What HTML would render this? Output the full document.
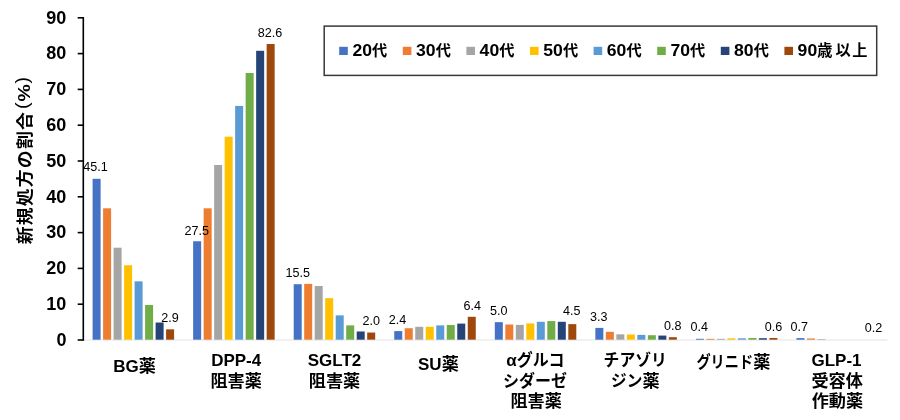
<!DOCTYPE html>
<html lang="ja"><head><meta charset="utf-8"><title>chart</title>
<style>
html,body{margin:0;padding:0;background:#fff;}
body{width:900px;height:420px;overflow:hidden;}
svg{display:block;}
text{font-family:"Liberation Sans","Noto Sans CJK JP",sans-serif;fill:#000;}
.b{font-weight:bold;}
</style></head><body>
<svg width="900" height="420" viewBox="0 0 900 420">
<rect width="900" height="420" fill="#fff"/>

<line x1="83.0" y1="340.0" x2="887.4" y2="340.0" stroke="#E3E3E3" stroke-width="1"/>
<rect x="92.60" y="178.78" width="8.0" height="160.92" fill="#4472C4"/>
<rect x="103.10" y="208.31" width="8.0" height="131.39" fill="#ED7D31"/>
<rect x="113.60" y="247.69" width="8.0" height="92.01" fill="#A5A5A5"/>
<rect x="124.10" y="265.24" width="8.0" height="74.46" fill="#FFC000"/>
<rect x="134.60" y="281.35" width="8.0" height="58.35" fill="#5B9BD5"/>
<rect x="145.10" y="304.97" width="8.0" height="34.73" fill="#70AD47"/>
<rect x="155.60" y="322.52" width="8.0" height="17.18" fill="#264478"/>
<rect x="166.10" y="329.32" width="8.0" height="10.38" fill="#9E480E"/>
<rect x="193.15" y="241.25" width="8.0" height="98.45" fill="#4472C4"/>
<rect x="203.65" y="208.31" width="8.0" height="131.39" fill="#ED7D31"/>
<rect x="214.15" y="165.00" width="8.0" height="174.70" fill="#A5A5A5"/>
<rect x="224.65" y="136.71" width="8.0" height="202.99" fill="#FFC000"/>
<rect x="235.15" y="105.93" width="8.0" height="233.77" fill="#5B9BD5"/>
<rect x="245.65" y="72.99" width="8.0" height="266.71" fill="#70AD47"/>
<rect x="256.15" y="50.79" width="8.0" height="288.91" fill="#264478"/>
<rect x="266.65" y="43.99" width="8.0" height="295.71" fill="#9E480E"/>
<rect x="293.70" y="284.21" width="8.0" height="55.49" fill="#4472C4"/>
<rect x="304.20" y="283.85" width="8.0" height="55.85" fill="#ED7D31"/>
<rect x="314.70" y="286.00" width="8.0" height="53.70" fill="#A5A5A5"/>
<rect x="325.20" y="298.17" width="8.0" height="41.53" fill="#FFC000"/>
<rect x="335.70" y="315.36" width="8.0" height="24.34" fill="#5B9BD5"/>
<rect x="346.20" y="325.38" width="8.0" height="14.32" fill="#70AD47"/>
<rect x="356.70" y="331.47" width="8.0" height="8.23" fill="#264478"/>
<rect x="367.20" y="332.54" width="8.0" height="7.16" fill="#9E480E"/>
<rect x="394.25" y="331.11" width="8.0" height="8.59" fill="#4472C4"/>
<rect x="404.75" y="328.24" width="8.0" height="11.46" fill="#ED7D31"/>
<rect x="415.25" y="326.81" width="8.0" height="12.89" fill="#A5A5A5"/>
<rect x="425.75" y="326.81" width="8.0" height="12.89" fill="#FFC000"/>
<rect x="436.25" y="325.38" width="8.0" height="14.32" fill="#5B9BD5"/>
<rect x="446.75" y="325.02" width="8.0" height="14.68" fill="#70AD47"/>
<rect x="457.25" y="323.59" width="8.0" height="16.11" fill="#264478"/>
<rect x="467.75" y="316.79" width="8.0" height="22.91" fill="#9E480E"/>
<rect x="494.80" y="322.16" width="8.0" height="17.54" fill="#4472C4"/>
<rect x="505.30" y="324.49" width="8.0" height="15.21" fill="#ED7D31"/>
<rect x="515.80" y="324.84" width="8.0" height="14.86" fill="#A5A5A5"/>
<rect x="526.30" y="323.41" width="8.0" height="16.29" fill="#FFC000"/>
<rect x="536.80" y="321.80" width="8.0" height="17.90" fill="#5B9BD5"/>
<rect x="547.30" y="321.08" width="8.0" height="18.62" fill="#70AD47"/>
<rect x="557.80" y="321.80" width="8.0" height="17.90" fill="#264478"/>
<rect x="568.30" y="324.13" width="8.0" height="15.57" fill="#9E480E"/>
<rect x="595.35" y="327.89" width="8.0" height="11.81" fill="#4472C4"/>
<rect x="605.85" y="331.82" width="8.0" height="7.88" fill="#ED7D31"/>
<rect x="616.35" y="334.33" width="8.0" height="5.37" fill="#A5A5A5"/>
<rect x="626.85" y="334.51" width="8.0" height="5.19" fill="#FFC000"/>
<rect x="637.35" y="334.87" width="8.0" height="4.83" fill="#5B9BD5"/>
<rect x="647.85" y="335.22" width="8.0" height="4.47" fill="#70AD47"/>
<rect x="658.35" y="335.58" width="8.0" height="4.12" fill="#264478"/>
<rect x="668.85" y="337.19" width="8.0" height="2.51" fill="#9E480E"/>
<rect x="695.90" y="338.81" width="8.0" height="0.90" fill="#4472C4"/>
<rect x="706.40" y="338.81" width="8.0" height="0.90" fill="#ED7D31"/>
<rect x="716.90" y="338.81" width="8.0" height="0.90" fill="#A5A5A5"/>
<rect x="727.40" y="338.34" width="8.0" height="1.36" fill="#FFC000"/>
<rect x="737.90" y="338.34" width="8.0" height="1.36" fill="#5B9BD5"/>
<rect x="748.40" y="337.98" width="8.0" height="1.72" fill="#70AD47"/>
<rect x="758.90" y="338.20" width="8.0" height="1.50" fill="#264478"/>
<rect x="769.40" y="337.98" width="8.0" height="1.72" fill="#9E480E"/>
<rect x="796.45" y="338.09" width="8.0" height="1.61" fill="#4472C4"/>
<rect x="806.95" y="338.45" width="8.0" height="1.25" fill="#ED7D31"/>
<rect x="817.45" y="339.06" width="8.0" height="0.64" fill="#A5A5A5"/>
<line x1="83.3" y1="17.0" x2="83.3" y2="340.7" stroke="#000" stroke-width="1.6"/>
<line x1="77.7" y1="340.00" x2="83.3" y2="340.00" stroke="#000" stroke-width="1.6"/>
<text class="b" x="66.40" y="345.70" font-size="18" text-anchor="end">0</text>
<line x1="77.7" y1="304.20" x2="83.3" y2="304.20" stroke="#000" stroke-width="1.6"/>
<text class="b" x="66.40" y="309.90" font-size="18" text-anchor="end">10</text>
<line x1="77.7" y1="268.40" x2="83.3" y2="268.40" stroke="#000" stroke-width="1.6"/>
<text class="b" x="66.40" y="274.10" font-size="18" text-anchor="end">20</text>
<line x1="77.7" y1="232.60" x2="83.3" y2="232.60" stroke="#000" stroke-width="1.6"/>
<text class="b" x="66.40" y="238.30" font-size="18" text-anchor="end">30</text>
<line x1="77.7" y1="196.80" x2="83.3" y2="196.80" stroke="#000" stroke-width="1.6"/>
<text class="b" x="66.40" y="202.50" font-size="18" text-anchor="end">40</text>
<line x1="77.7" y1="161.00" x2="83.3" y2="161.00" stroke="#000" stroke-width="1.6"/>
<text class="b" x="66.40" y="166.70" font-size="18" text-anchor="end">50</text>
<line x1="77.7" y1="125.20" x2="83.3" y2="125.20" stroke="#000" stroke-width="1.6"/>
<text class="b" x="66.40" y="130.90" font-size="18" text-anchor="end">60</text>
<line x1="77.7" y1="89.40" x2="83.3" y2="89.40" stroke="#000" stroke-width="1.6"/>
<text class="b" x="66.40" y="95.10" font-size="18" text-anchor="end">70</text>
<line x1="77.7" y1="53.60" x2="83.3" y2="53.60" stroke="#000" stroke-width="1.6"/>
<text class="b" x="66.40" y="59.30" font-size="18" text-anchor="end">80</text>
<line x1="77.7" y1="17.80" x2="83.3" y2="17.80" stroke="#000" stroke-width="1.6"/>
<text class="b" x="66.40" y="23.50" font-size="18" text-anchor="end">90</text>
<text class="b" transform="translate(30.6,244.3) rotate(-90) scale(1.05,1)" font-size="17" letter-spacing="1.14" text-anchor="start">新規処方の割合</text>
<text transform="translate(27.6,109.0) rotate(-90) scale(1.12,1)" font-size="17.7" text-anchor="start">(</text>
<text class="b" transform="translate(30.2,101.5) rotate(-90) scale(1.12,1)" font-size="17.4" text-anchor="start">%</text>
<text transform="translate(27.6,83.6) rotate(-90) scale(1.12,1)" font-size="17.7" text-anchor="start">)</text>
<text transform="translate(95.60,171.20) scale(1.05,1)" font-size="12" text-anchor="middle">45.1</text>
<text transform="translate(170.00,321.70) scale(1.05,1)" font-size="12" text-anchor="middle">2.9</text>
<text transform="translate(196.70,234.50) scale(1.05,1)" font-size="12" text-anchor="middle">27.5</text>
<text transform="translate(270.00,36.80) scale(1.05,1)" font-size="12" text-anchor="middle">82.6</text>
<text transform="translate(297.80,276.60) scale(1.05,1)" font-size="12" text-anchor="middle">15.5</text>
<text transform="translate(371.30,325.00) scale(1.05,1)" font-size="12" text-anchor="middle">2.0</text>
<text transform="translate(397.50,324.40) scale(1.05,1)" font-size="12" text-anchor="middle">2.4</text>
<text transform="translate(472.30,309.60) scale(1.05,1)" font-size="12" text-anchor="middle">6.4</text>
<text transform="translate(498.80,315.00) scale(1.05,1)" font-size="12" text-anchor="middle">5.0</text>
<text transform="translate(571.80,315.00) scale(1.05,1)" font-size="12" text-anchor="middle">4.5</text>
<text transform="translate(598.80,321.00) scale(1.05,1)" font-size="12" text-anchor="middle">3.3</text>
<text transform="translate(672.80,330.00) scale(1.05,1)" font-size="12" text-anchor="middle">0.8</text>
<text transform="translate(699.30,330.90) scale(1.05,1)" font-size="12" text-anchor="middle">0.4</text>
<text transform="translate(773.40,330.50) scale(1.05,1)" font-size="12" text-anchor="middle">0.6</text>
<text transform="translate(799.20,330.50) scale(1.05,1)" font-size="12" text-anchor="middle">0.7</text>
<text transform="translate(873.40,332.10) scale(1.05,1)" font-size="12" text-anchor="middle">0.2</text>
<text class="b" x="113.27" y="371.80" font-size="17" text-anchor="start">BG</text>
<text class="b" transform="translate(138.77,371.80) scale(1.04,1)" font-size="16.5" text-anchor="start">薬</text>
<text class="b" x="211.16" y="366.00" font-size="17" text-anchor="start">DPP-4</text>
<text class="b" transform="translate(210.46,387.00) scale(1.04,1)" font-size="16.5" text-anchor="start">阻害薬</text>
<text class="b" x="307.74" y="366.00" font-size="17" text-anchor="start">SGLT2</text>
<text class="b" transform="translate(308.76,387.00) scale(1.04,1)" font-size="16.5" text-anchor="start">阻害薬</text>
<text class="b" x="418.01" y="370.20" font-size="17" text-anchor="start">SU</text>
<text class="b" transform="translate(441.63,370.20) scale(1.04,1)" font-size="16.5" text-anchor="start">薬</text>
<text class="b" x="506.37" y="366.00" font-size="17" text-anchor="start">α</text>
<text class="b" transform="translate(516.82,366.00) scale(0.97,1)" font-size="16.5" text-anchor="start">グルコ</text>
<text class="b" transform="translate(502.99,387.00) scale(0.97,1)" font-size="16.5" text-anchor="start">シダーゼ</text>
<text class="b" transform="translate(510.46,407.00) scale(1.04,1)" font-size="16.5" text-anchor="start">阻害薬</text>
<text class="b" transform="translate(603.62,366.00) scale(0.96,1)" font-size="16.5" text-anchor="start">チアゾリ</text>
<text class="b" transform="translate(611.05,387.00) scale(0.95,1)" font-size="16.5" text-anchor="start">ジン</text>
<text class="b" transform="translate(642.40,387.00) scale(1.04,1)" font-size="16.5" text-anchor="start">薬</text>
<text class="b" transform="translate(696.44,368.40) scale(0.86,1)" font-size="16.5" text-anchor="start">グリニド</text>
<text class="b" transform="translate(753.20,368.40) scale(1.04,1)" font-size="16.5" text-anchor="start">薬</text>
<text class="b" x="811.47" y="365.60" font-size="17" text-anchor="start">GLP-1</text>
<text class="b" transform="translate(811.46,387.00) scale(1.04,1)" font-size="16.5" text-anchor="start">受容体</text>
<text class="b" transform="translate(811.66,407.00) scale(1.04,1)" font-size="16.5" text-anchor="start">作動薬</text>
<rect x="324.2" y="26.1" width="552.5" height="49.3" fill="#fff" stroke="#383838" stroke-width="1.5"/>
<rect x="339.20" y="46.8" width="8.6" height="8.2" fill="#4472C4"/>
<text class="b" transform="translate(352.40,56.00) scale(1.1,1)" font-size="16" text-anchor="start">20</text>
<text class="b" transform="translate(372.08,56.00) scale(0.98,1)" font-size="15.5" text-anchor="start">代</text>
<rect x="402.80" y="46.8" width="8.6" height="8.2" fill="#ED7D31"/>
<text class="b" transform="translate(416.00,56.00) scale(1.1,1)" font-size="16" text-anchor="start">30</text>
<text class="b" transform="translate(435.68,56.00) scale(0.98,1)" font-size="15.5" text-anchor="start">代</text>
<rect x="466.40" y="46.8" width="8.6" height="8.2" fill="#A5A5A5"/>
<text class="b" transform="translate(479.60,56.00) scale(1.1,1)" font-size="16" text-anchor="start">40</text>
<text class="b" transform="translate(499.28,56.00) scale(0.98,1)" font-size="15.5" text-anchor="start">代</text>
<rect x="530.00" y="46.8" width="8.6" height="8.2" fill="#FFC000"/>
<text class="b" transform="translate(543.20,56.00) scale(1.1,1)" font-size="16" text-anchor="start">50</text>
<text class="b" transform="translate(562.88,56.00) scale(0.98,1)" font-size="15.5" text-anchor="start">代</text>
<rect x="593.60" y="46.8" width="8.6" height="8.2" fill="#5B9BD5"/>
<text class="b" transform="translate(606.80,56.00) scale(1.1,1)" font-size="16" text-anchor="start">60</text>
<text class="b" transform="translate(626.48,56.00) scale(0.98,1)" font-size="15.5" text-anchor="start">代</text>
<rect x="657.20" y="46.8" width="8.6" height="8.2" fill="#70AD47"/>
<text class="b" transform="translate(670.40,56.00) scale(1.1,1)" font-size="16" text-anchor="start">70</text>
<text class="b" transform="translate(690.08,56.00) scale(0.98,1)" font-size="15.5" text-anchor="start">代</text>
<rect x="720.80" y="46.8" width="8.6" height="8.2" fill="#264478"/>
<text class="b" transform="translate(734.00,56.00) scale(1.1,1)" font-size="16" text-anchor="start">80</text>
<text class="b" transform="translate(753.68,56.00) scale(0.98,1)" font-size="15.5" text-anchor="start">代</text>
<rect x="784.40" y="46.8" width="8.6" height="8.2" fill="#9E480E"/>
<text class="b" transform="translate(797.60,56.00) scale(1.1,1)" font-size="16" text-anchor="start">90</text>
<text class="b" transform="translate(817.28,56.00) scale(0.98,1)" font-size="15.5" text-anchor="start">歳</text>
<text class="b" transform="translate(835.60,56.00) scale(0.98,1)" font-size="15.5" text-anchor="start">以</text>
<text class="b" transform="translate(852.30,56.00) scale(0.98,1)" font-size="15.5" text-anchor="start">上</text>
</svg></body></html>
